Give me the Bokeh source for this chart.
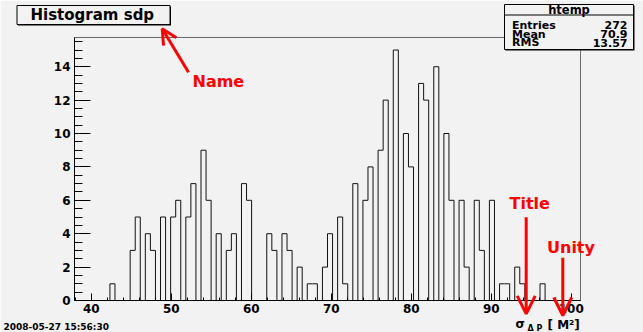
import numpy as np
from bokeh.plotting import figure
from bokeh.layouts import column
from bokeh.models import Range1d, FixedTicker, Label, Arrow, OpenHead
from bokeh.embed import file_html
from bokeh.resources import INLINE

# ---------------- data ----------------
counts = [0, 0, 0, 0, 0, 0, 0, 1, 0, 0,
          0, 3, 5, 0, 4, 3, 0, 5, 0, 5,
          6, 0, 5, 7, 0, 9, 6, 0, 4, 0,
          3, 4, 0, 7, 6, 0, 0, 0, 4, 3,
          0, 4, 3, 0, 2, 0, 1, 1, 0, 2,
          4, 0, 5, 1, 0, 7, 0, 6, 8, 0,
          9, 12, 0, 15, 0, 10, 8, 0, 13, 12,
          0, 14, 0, 10, 6, 0, 6, 2, 0, 6,
          3, 0, 6, 0, 1, 1, 0, 2, 1, 0,
          0, 0, 1, 0, 0, 0, 0, 0, 0, 0]
x_min = 37.9
x_max = 101.15
y_max = 15.75
x_major = [40, 50, 60, 70, 80, 90, 100]
x_minor = list(range(38, 101, 2))
y_major = [0, 2, 4, 6, 8, 10, 12, 14]
y_minor = [i * 0.5 for i in range(0, 32)]
hist_title = "Histogram sdp"
stats_title = "htemp"
stats_names = ["Entries", "Mean", "RMS"]
stats_values = ["272", "70.9", "13.57"]
date_text = "2008-05-27 15:56:30"
notes = ["Name", "Title", "Unity"]

# ---------------- layout ----------------
W, H = 643, 332
FL, FR, FT, FB = 74, 580, 37, 300
BG = "#f2f2f2"
FONT = "DejaVu Sans"
RED = "#ff0000"

p = figure(width=W, height=H, output_backend="svg", toolbar_location=None,
           x_range=Range1d(x_min, x_max), y_range=Range1d(0, y_max),
           min_border_left=FL, min_border_right=W - FR,
           min_border_top=FT, min_border_bottom=H - FB)
p.frame_align = False
p.background_fill_color = BG
p.border_fill_color = BG
p.outline_line_color = "#6a6a6a"
p.outline_line_width = 1
p.xgrid.visible = False
p.ygrid.visible = False

xa = p.xaxis[0]
xa.ticker = FixedTicker(ticks=x_major, minor_ticks=x_minor)
xa.major_tick_in = 7
xa.major_tick_out = 0
xa.minor_tick_in = 3
xa.minor_tick_out = 0
xa.axis_line_color = "black"
xa.major_tick_line_color = "black"
xa.minor_tick_line_color = "black"
xa.major_label_text_font = FONT
xa.major_label_text_font_style = "bold"
xa.major_label_text_font_size = "12px"
xa.major_label_text_color = "black"
xa.major_label_standoff = 3

ya = p.yaxis[0]
ya.ticker = FixedTicker(ticks=y_major, minor_ticks=y_minor)
ya.major_tick_in = 16
ya.major_tick_out = 0
ya.minor_tick_in = 8
ya.minor_tick_out = 0
ya.axis_line_color = "black"
ya.major_tick_line_color = "black"
ya.minor_tick_line_color = "black"
ya.major_label_text_font = FONT
ya.major_label_text_font_style = "bold"
ya.major_label_text_font_size = "12px"
ya.major_label_text_color = "black"
ya.major_label_standoff = 4

# histogram outline
n_bins = len(counts)
edges = x_min + (x_max - x_min) * np.arange(n_bins + 1) / n_bins
heights = list(counts) + [0]
p.step(x=edges, y=heights, mode="after", line_color="#111111", line_width=1)

# ---------------- transparent overlay (pixel coordinates, y downward) ----------------
ov = figure(width=W, height=H, output_backend="svg", toolbar_location=None,
            x_range=Range1d(0, W), y_range=Range1d(H, 0),
            x_axis_location=None, y_axis_location=None,
            min_border=0, min_border_left=0, min_border_right=0,
            min_border_top=0, min_border_bottom=0,
            styles={"position": "absolute", "top": "0px", "left": "0px"})
ov.frame_align = False
ov.background_fill_alpha = 0
ov.border_fill_alpha = 0
ov.outline_line_color = None
ov.xgrid.visible = False
ov.ygrid.visible = False


def label(px, py, text, size, align="left", color="black"):
    return Label(x=px, y=py, text=text, text_align=align, text_baseline="middle",
                 text_font=FONT, text_font_style="bold",
                 text_font_size=size, text_color=color)


# title box with shadow
ov.quad(left=[17.5], right=[170.5], top=[6], bottom=[25],
        fill_color="black", line_color=None)
ov.quad(left=[16.5], right=[169.5], top=[5], bottom=[24],
        fill_color=BG, line_color="black", line_width=1)
ov.add_layout(label(30, 14.5, hist_title, "15px"))

# stats box with shadow
ov.quad(left=[505], right=[634], top=[5], bottom=[50],
        fill_color="black", line_color=None)
ov.quad(left=[504], right=[633], top=[4], bottom=[49],
        fill_color=BG, line_color="black", line_width=1)
ov.segment(x0=[504], y0=[14.5], x1=[633], y1=[14.5], line_color="black", line_width=1)
ov.add_layout(label(568.5, 9.5, stats_title, "11.5px", align="center"))
row_y = [24.8, 33.6, 42.2]
for name, val, yy in zip(stats_names, stats_values, row_y):
    ov.add_layout(label(511.5, yy, name, "11px"))
    ov.add_layout(label(627, yy, val, "11px", align="right"))

# x-axis title (sigma_{Delta P} [M^2])
ov.add_layout(label(515, 323.5, "σ", "12px"))
ov.add_layout(label(527, 327.5, "Δ P", "8px"))
ov.add_layout(label(547, 324, "[ M²]", "12px"))

# date stamp
ov.add_layout(label(3, 326, date_text, "9px"))

# red notes and arrows
ov.add_layout(label(192, 81, notes[0], "16px", color=RED))
ov.add_layout(label(509, 203, notes[1], "16px", color=RED))
ov.add_layout(label(546.5, 247, notes[2], "16px", color=RED))


def arrow(x0, y0, x1, y1, size):
    return Arrow(end=OpenHead(line_color=RED, line_width=3, size=size),
                 x_start=x0, y_start=y0, x_end=x1, y_end=y1,
                 line_color=RED, line_width=3)


ov.add_layout(arrow(188, 71.7, 161.7, 28.3, 15))
ov.add_layout(arrow(525.7, 216.7, 525.7, 313.3, 18))
ov.add_layout(arrow(562.3, 257.3, 562.3, 315, 18))

root = column(p, ov, styles={"position": "relative"})
open("out.html", "w").write(file_html(root, INLINE))
